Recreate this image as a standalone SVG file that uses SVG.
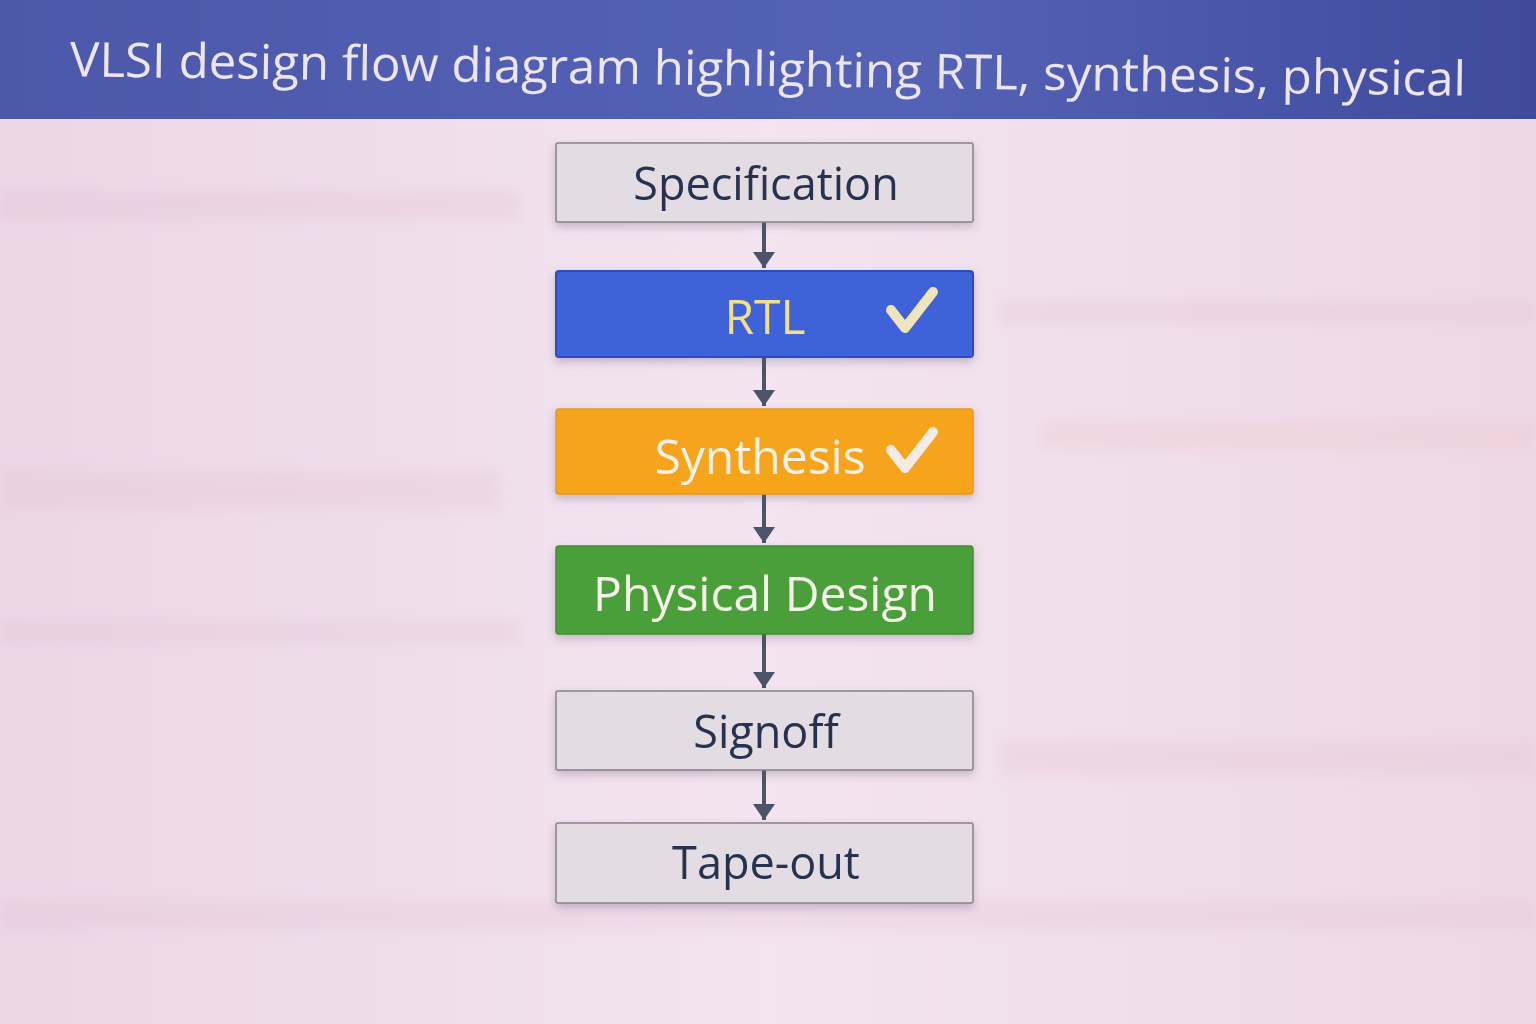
<svg xmlns="http://www.w3.org/2000/svg" width="1536" height="1024" viewBox="0 0 1536 1024">
<style>
.t{font-family:"Open Sans","Noto Sans","Liberation Sans",sans-serif;text-anchor:middle;font-weight:400}
.gray{fill:#e3dde3;stroke:#84848c;stroke-width:1.5}
.dark{fill:#27334f;font-size:45px}
.light{font-size:48px}
.conn line{stroke:#4b5468;stroke-width:4}
.check{fill:none;stroke-width:10;stroke-linecap:round;stroke-linejoin:round}
</style>
<defs>
<linearGradient id="bg" x1="0" y1="0" x2="1" y2="0">
<stop offset="0" stop-color="#ecd6e6"/>
<stop offset="0.5" stop-color="#f3e4f0"/>
<stop offset="1" stop-color="#eed8e6"/>
</linearGradient>
<linearGradient id="hdr" x1="0" y1="0" x2="1" y2="0">
<stop offset="0" stop-color="#4c58aa"/>
<stop offset="0.6" stop-color="#5462b6"/>
<stop offset="1" stop-color="#3f4a9c"/>
</linearGradient>
<filter id="sh" x="-10%" y="-20%" width="120%" height="150%">
<feDropShadow dx="0" dy="4" stdDeviation="4" flood-color="#60506a" flood-opacity="0.3"/>
</filter>
<filter id="blur"><feGaussianBlur stdDeviation="6"/></filter>
<marker id="ah" viewBox="0 0 10 10" refX="10" refY="5" markerWidth="16" markerHeight="22" markerUnits="userSpaceOnUse" orient="auto" preserveAspectRatio="none">
<path d="M0,0 L10,5 L0,10 Z" fill="#4b5468"/>
</marker>
</defs>
<rect width="1536" height="1024" fill="url(#bg)"/>
<g opacity="0.3" filter="url(#blur)">
<rect x="0" y="190" width="520" height="30" fill="#e4c0d4"/>
<rect x="1000" y="300" width="536" height="24" fill="#e4c0d4"/>
<rect x="0" y="470" width="500" height="40" fill="#e6c4d2"/>
<rect x="1040" y="420" width="496" height="30" fill="#ecc8c8"/>
<rect x="0" y="620" width="520" height="24" fill="#e4c2d6"/>
<rect x="1000" y="740" width="536" height="36" fill="#e6c4d2"/>
<rect x="0" y="900" width="1536" height="30" fill="#e4c2d6"/>
</g>
<g id="header">
<rect x="0" y="0" width="1536" height="119" fill="url(#hdr)"/>
<text class="t" x="768" y="86" font-size="48" fill="#ece4f0" textLength="1396" lengthAdjust="spacingAndGlyphs" transform="rotate(0.8 768 70)">VLSI design flow diagram highlighting RTL, synthesis, physical</text>
</g>
<g id="connectors" class="conn">
<line x1="764" y1="222" x2="764" y2="268" marker-end="url(#ah)"/>
<line x1="764" y1="357" x2="764" y2="406" marker-end="url(#ah)"/>
<line x1="764" y1="494" x2="764" y2="543" marker-end="url(#ah)"/>
<line x1="764" y1="634" x2="764" y2="688" marker-end="url(#ah)"/>
<line x1="764" y1="770" x2="764" y2="820" marker-end="url(#ah)"/>
</g>
<g id="specification" filter="url(#sh)">
<rect class="gray" x="556" y="143" width="417" height="79" rx="2"/>
<text class="t dark" x="766" y="200">Specification</text>
</g>
<g id="rtl" filter="url(#sh)">
<rect x="556" y="271" width="417" height="86" rx="3" fill="#3f62d8" stroke="#2c4cc2" stroke-width="2"/>
<text class="t light" x="765" y="334" fill="#f1df8c">RTL</text>
<path class="check" d="M891,310 L905,328 L933,292" stroke="#f0e4bc"/>
</g>
<g id="synthesis" filter="url(#sh)">
<rect x="556" y="409" width="417" height="85" rx="3" fill="#f6a41e" stroke="#ee9612" stroke-width="1.5"/>
<text class="t light" x="760" y="474" fill="#f9f1e8">Synthesis</text>
<path class="check" d="M891,450 L905,468 L933,432" stroke="#f4ece4"/>
</g>
<g id="physical-design" filter="url(#sh)">
<rect x="556" y="546" width="417" height="88" rx="3" fill="#4c9f3a" stroke="#3f8e30" stroke-width="1.5"/>
<text class="t light" x="765" y="611" fill="#f4f1ea">Physical Design</text>
</g>
<g id="signoff" filter="url(#sh)">
<rect class="gray" x="556" y="691" width="417" height="79" rx="2"/>
<text class="t dark" x="766" y="748">Signoff</text>
</g>
<g id="tape-out" filter="url(#sh)">
<rect class="gray" x="556" y="823" width="417" height="80" rx="2"/>
<text class="t dark" x="766" y="879">Tape-out</text>
</g>
</svg>
